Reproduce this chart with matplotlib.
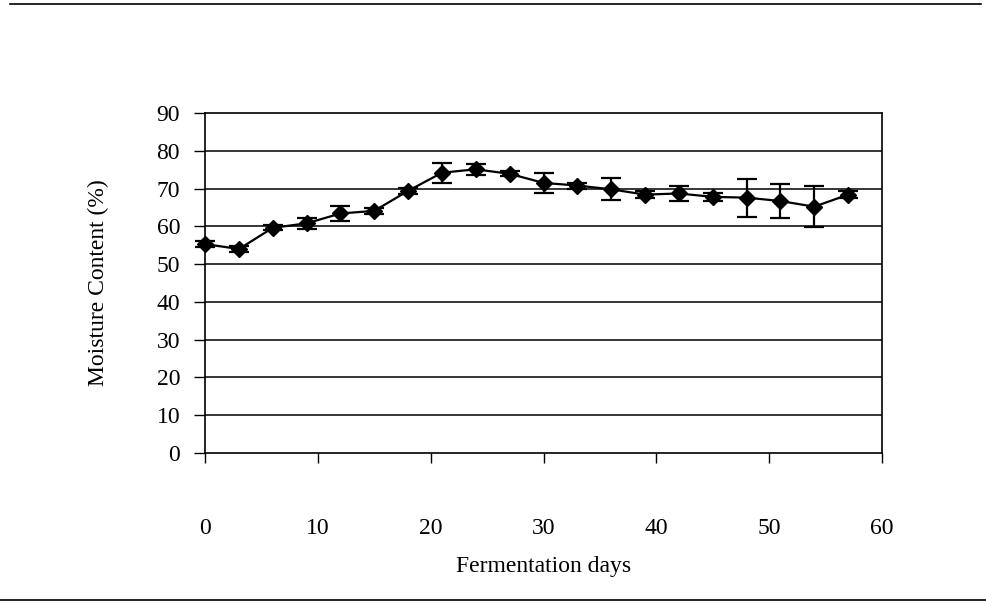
import matplotlib
matplotlib.use("Agg")
import matplotlib.pyplot as plt
from matplotlib.lines import Line2D
import numpy as np

plt.rcParams['font.family'] = ['Liberation Serif', 'DejaVu Serif']

days = [0, 3, 6, 9, 12, 15, 18, 21, 24, 27, 30, 33, 36, 39, 42, 45, 48, 51, 54, 57]
moisture = [55.3, 54.0, 59.6, 60.8, 63.4, 64.1, 69.4, 74.2, 75.1, 73.9,
            71.5, 70.8, 69.8, 68.4, 68.7, 67.8, 67.6, 66.7, 65.2, 68.4]
sd = [0.8, 0.7, 0.7, 1.4, 1.9, 0.8, 0.8, 2.6, 1.4, 0.7,
      2.6, 0.8, 2.9, 1.0, 2.1, 1.0, 5.0, 4.5, 5.4, 1.0]

fig = plt.figure(figsize=(9.86, 6.06), dpi=100)
ax = fig.add_axes([0.208, 0.2525, 0.6865, 0.561])

for y in range(10, 90, 10):
    ax.axhline(y, color='black', lw=1.1, zorder=1)

ax.errorbar(days, moisture, yerr=sd, color='black', lw=1.6, marker='D',
            markersize=8, capsize=7, elinewidth=1.6, capthick=1.6, zorder=3,
            clip_on=False)

ax.set_xlim(0, 60)
ax.set_ylim(0, 90)
ax.set_xticks(np.arange(0, 61, 10))
ax.set_yticks(np.arange(0, 91, 10))
ax.tick_params(axis='x', direction='out', length=7, width=1, pad=40, labelsize=17)
ax.tick_params(axis='y', direction='out', length=8, width=1, pad=10, labelsize=17)
for s in ax.spines.values():
    s.set_linewidth(1.2)
    s.set_color('black')

ax.set_xlabel('Fermentation days', fontsize=17, labelpad=12)
ax.set_ylabel('Moisture Content (%)', fontsize=17, labelpad=34)

# page rules from the scanned sheet
fig.add_artist(Line2D([0.01, 0.995], [0.993, 0.993], color='black', lw=1.2))
fig.add_artist(Line2D([0.0, 1.0], [0.01, 0.01], color='black', lw=1.2))

fig.savefig('out.png', dpi=100)
